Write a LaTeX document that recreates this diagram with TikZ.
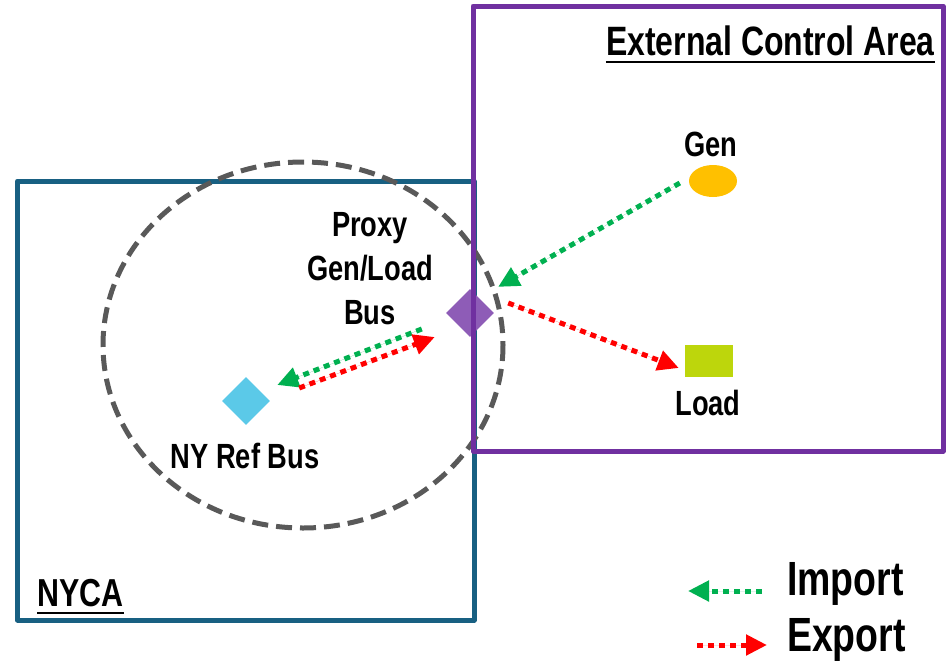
\documentclass[tikz,border=0pt]{standalone}
\usepackage{fontspec}
\setmainfont{Liberation Sans}[FakeStretch=0.78]
\usetikzlibrary{shapes.geometric,arrows.meta}

\definecolor{nycablue}{RGB}{24,96,130}
\definecolor{extpurple}{RGB}{112,48,160}
\definecolor{proxypurple}{RGB}{142,92,183}
\definecolor{refblue}{RGB}{91,201,232}
\definecolor{genorange}{RGB}{255,192,0}
\definecolor{loadgreen}{RGB}{189,214,12}
\definecolor{impgreen}{RGB}{0,176,80}
\definecolor{expred}{RGB}{255,0,0}
\definecolor{ringgray}{RGB}{89,89,89}

\tikzset{
  area/.style={line width=5pt, line join=round},
  busdiamond/.style={diamond, aspect=1, minimum width=48pt, minimum height=48pt, inner sep=0pt, draw=none},
  label/.style={font=\fontsize{35}{44}\selectfont\bfseries, inner sep=0pt, align=center},
  header/.style={font=\fontsize{41}{48}\selectfont\bfseries, inner sep=0pt},
  legendtext/.style={font=\fontsize{48}{52}\selectfont\bfseries, inner sep=0pt, anchor=west},
  flow/.style={line width=5pt, dash pattern=on 6pt off 5pt,
    -{Triangle[length=21pt, width=20pt]}},
  importflow/.style={flow, draw=impgreen, fill=impgreen},
  exportflow/.style={flow, draw=expred, fill=expred},
}

\begin{document}
\begin{tikzpicture}[x=1pt, y=-1pt]
\useasboundingbox (0,0) rectangle (948,662);

% NYCA area
\draw[area, draw=nycablue] (17.5,181) rectangle (474,620);

% dashed ring around the reference and proxy buses
\draw[ringgray, line width=5pt, dash pattern=on 16pt off 8pt] (303,345) ellipse [x radius=200, y radius=183];

% buses and resources
\node[busdiamond, fill=proxypurple] (proxy) at (470,313) {};
\node[busdiamond, fill=refblue] (ref) at (246,401) {};
\node[ellipse, fill=genorange, minimum width=48pt, minimum height=32pt, inner sep=0pt] (gen) at (713,181) {};
\node[rectangle, fill=loadgreen, minimum width=48pt, minimum height=32pt, inner sep=0pt] (load) at (709,361) {};

% external control area
\draw[area, draw=extpurple] (473,6) rectangle (943,451);

% labels
\node[header, anchor=base east] (ecatext) at (935,55) {External Control Area};
\draw[line width=2.5pt] ([shift={(0,7)}]ecatext.base west) -- ([shift={(0,7)}]ecatext.base east);
\node[header, anchor=base west, font=\fontsize{39}{48}\selectfont\bfseries] (nycatext) at (37,606) {NYCA};
\draw[line width=2.5pt] ([shift={(0,7)}]nycatext.base west) -- ([shift={(0,7)}]nycatext.base east);

\node[label] (gentext) at (711,144) {Gen};
\node[label] (loadtext) at (708,403) {Load};
\node[label] (proxytext) at (370,269) {Proxy\\Gen/Load\\Bus};
\node[label] (reftext) at (245,456) {NY Ref Bus};

% flows
\draw[importflow] ([shift={(-9,2)}]gen.west) -- ([shift={(16,-14)}]proxy.north east);
\draw[exportflow] ([shift={(14,-10)}]proxy.east) -- ([shift={(-6,7)}]load.west);
\draw[importflow] ([shift={(-24,16)}]proxy.west) -- ([shift={(7,-16)}]ref.east);
\draw[exportflow] ([shift={(29,-13)}]ref.east) -- ([shift={(-11,24)}]proxy.west);

% legend
\node[legendtext] (imptext) at (787,584) {Import};
\node[legendtext] (exptext) at (787,640) {Export};
\coordinate (impstart) at (762,591);
\coordinate (impend) at (688,591);
\coordinate (expstart) at (697,645);
\coordinate (expend) at (767,645);
\draw[importflow] (impstart) -- (impend);
\draw[exportflow] (expstart) -- (expend);
\end{tikzpicture}
\end{document}
